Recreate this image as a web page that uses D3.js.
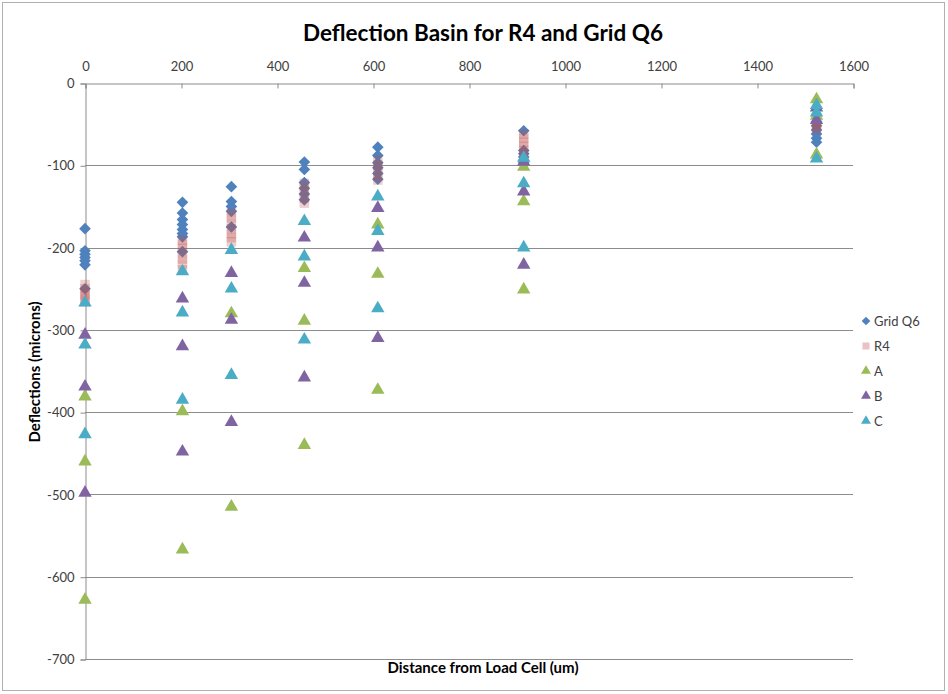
<!DOCTYPE html>
<html>
<head>
<meta charset="utf-8">
<script src="https://cdn.jsdelivr.net/npm/d3@7"></script>
<style>
  html, body { margin: 0; padding: 0; background: #ffffff; }
  svg { display: block; font-family: Lato, "Open Sans", "Liberation Sans", sans-serif; }
</style>
</head>
<body>
<svg id="chart" width="948" height="694"></svg>
<script>
// Distances from the load cell (um) at which deflections were recorded
const distances = [0, 203, 305, 457, 610, 914, 1524];

// Deflection readings (microns), one inner list per distance
const gridQ6 = [
  [-177, -204, -208, -212, -216, -221, -250],
  [-145, -158, -166, -172, -178, -183, -187, -205],
  [-126, -144, -150, -156, -175],
  [-96, -105, -121, -128, -135, -142],
  [-78, -88, -97, -103, -110, -117],
  [-58, -82, -86, -90, -94, -97],
  [-47, -52, -57, -62, -67, -72]
];
const r4 = [
  [-245, -250, -255, -258, -262, -266],
  [-191, -196, -201, -208, -214, -220, -227],
  [-158, -164, -170, -177, -183, -188, -193],
  [-122, -128, -134, -140, -146],
  [-94, -100, -106, -112, -118],
  [-62, -67, -72, -77, -82, -87],
  [-50, -53, -56]
];
const seriesA = [
  [-381, -460, -628],
  [-399, -567],
  [-280, -515],
  [-225, -289, -440],
  [-172, -232, -373],
  [-102, -144, -251],
  [-20, -40, -87]
];
const seriesB = [
  [-306, -369, -498],
  [-262, -320, -448],
  [-231, -288, -412],
  [-188, -243, -358],
  [-152, -200, -310],
  [-96, -132, -221],
  [-30, -45]
];
const seriesC = [
  [-267, -318, -427],
  [-229, -279, -385],
  [-203, -250, -355],
  [-168, -211, -312],
  [-138, -180, -274],
  [-91, -122, -200],
  [-27, -36, -92]
];

const seriesNames = ["Grid Q6", "R4", "A", "B", "C"];
const xTicks = [0, 200, 400, 600, 800, 1000, 1200, 1400, 1600];
const yTicks = [0, -100, -200, -300, -400, -500, -600, -700];

const series = [
  { name: seriesNames[0], values: gridQ6, shape: "diamond", color: "#4F81BD", opacity: 1 },
  { name: seriesNames[1], values: r4, shape: "square", color: "#C0504D", opacity: 0.28 },
  { name: seriesNames[2], values: seriesA, shape: "triangle", color: "#9BBB59", opacity: 1 },
  { name: seriesNames[3], values: seriesB, shape: "triangle", color: "#8064A2", opacity: 1 },
  { name: seriesNames[4], values: seriesC, shape: "triangle", color: "#4BACC6", opacity: 1 }
];

const svg = d3.select("#chart");
const plot = { left: 85, right: 853, top: 83, bottom: 659 };

const x = d3.scaleLinear().domain([0, 1600]).range([plot.left, plot.right]);
const y = d3.scaleLinear().domain([0, -700]).range([plot.top, plot.bottom]);

// Outer chart border
svg.append("rect")
  .attr("x", 2.5).attr("y", 2.5).attr("width", 942).attr("height", 688)
  .attr("fill", "#ffffff").attr("stroke", "#b0b0b0").attr("stroke-width", 1);

// Title
svg.append("text")
  .attr("x", 483).attr("y", 41)
  .attr("text-anchor", "middle")
  .attr("font-size", 22.5).attr("font-weight", "bold").attr("fill", "#000")
  .text("Deflection Basin for R4 and Grid Q6");

// Horizontal gridlines
svg.append("g")
  .selectAll("line").data(yTicks.slice(1)).join("line")
  .attr("x1", plot.left).attr("x2", plot.right)
  .attr("y1", d => Math.round(y(d)) + 0.5).attr("y2", d => Math.round(y(d)) + 0.5)
  .attr("stroke", "#8c8c8c").attr("stroke-width", 1);

// Y axis (left)
const yAxis = d3.axisLeft(y).tickValues(yTicks).tickSize(5).tickPadding(6).tickFormat(d3.format("d"));
const gy = svg.append("g").attr("transform", `translate(${plot.left + 0.5},0.5)`).call(yAxis);
gy.select(".domain").attr("stroke", "#8c8c8c");
gy.selectAll(".tick line").attr("stroke", "#8c8c8c");
gy.selectAll(".tick text").attr("font-size", 13).attr("fill", "#404040")
  .attr("font-family", "Lato, 'Open Sans', sans-serif").text(d => d === 0 ? "0" : "-" + Math.abs(d));

// X axis along the top (value 0 line), ticks pointing into the plot
const xAxis = d3.axisTop(x).tickValues(xTicks).tickSize(-5).tickPadding(13).tickFormat(d3.format("d"));
const gx = svg.append("g").attr("transform", `translate(0.5,${plot.top + 0.5})`).call(xAxis);
gx.select(".domain").attr("stroke", "#8c8c8c");
gx.selectAll(".tick line").attr("stroke", "#8c8c8c");
gx.selectAll(".tick text").attr("font-size", 13).attr("fill", "#404040")
  .attr("font-family", "Lato, 'Open Sans', sans-serif");

// Axis titles
svg.append("text")
  .attr("x", 483).attr("y", 673)
  .attr("text-anchor", "middle").attr("font-size", 15).attr("font-weight", "bold").attr("fill", "#000")
  .text("Distance from Load Cell (um)");
svg.append("text")
  .attr("transform", "translate(40,372) rotate(-90)")
  .attr("text-anchor", "middle").attr("font-size", 15).attr("font-weight", "bold").attr("fill", "#000")
  .text("Deflections (microns)");

// Marker shapes
function symbolPath(shape, scale) {
  if (shape === "diamond") return d3.symbol(d3.symbolSquare, 68 * scale)();
  if (shape === "square") return d3.symbol(d3.symbolSquare, 90 * scale)();
  return d3.symbol(d3.symbolTriangle, 78 * scale)();
}

// Points
series.forEach(s => {
  const pts = [];
  s.values.forEach((vals, i) => vals.forEach(v => pts.push({ d: distances[i], v })));
  svg.append("g")
    .selectAll("path").data(pts).join("path")
    .attr("d", symbolPath(s.shape, 1))
    .attr("transform", p => `translate(${x(p.d)},${y(p.v)})` + (s.shape === "diamond" ? " rotate(45)" : ""))
    .attr("fill", s.color)
    .attr("fill-opacity", s.opacity);
});

// Legend
const legend = svg.append("g");
series.forEach((s, i) => {
  const ly = 321 + i * 25;
  legend.append("path")
    .attr("d", symbolPath(s.shape, 0.55))
    .attr("transform", `translate(866,${ly})` + (s.shape === "diamond" ? " rotate(45)" : ""))
    .attr("fill", s.color)
    .attr("fill-opacity", s.opacity === 1 ? 1 : 0.35);
  legend.append("text")
    .attr("x", 874).attr("y", ly).attr("dy", "0.35em")
    .attr("font-size", 13).attr("fill", "#404040")
    .text(s.name);
});
</script>
</body>
</html>
